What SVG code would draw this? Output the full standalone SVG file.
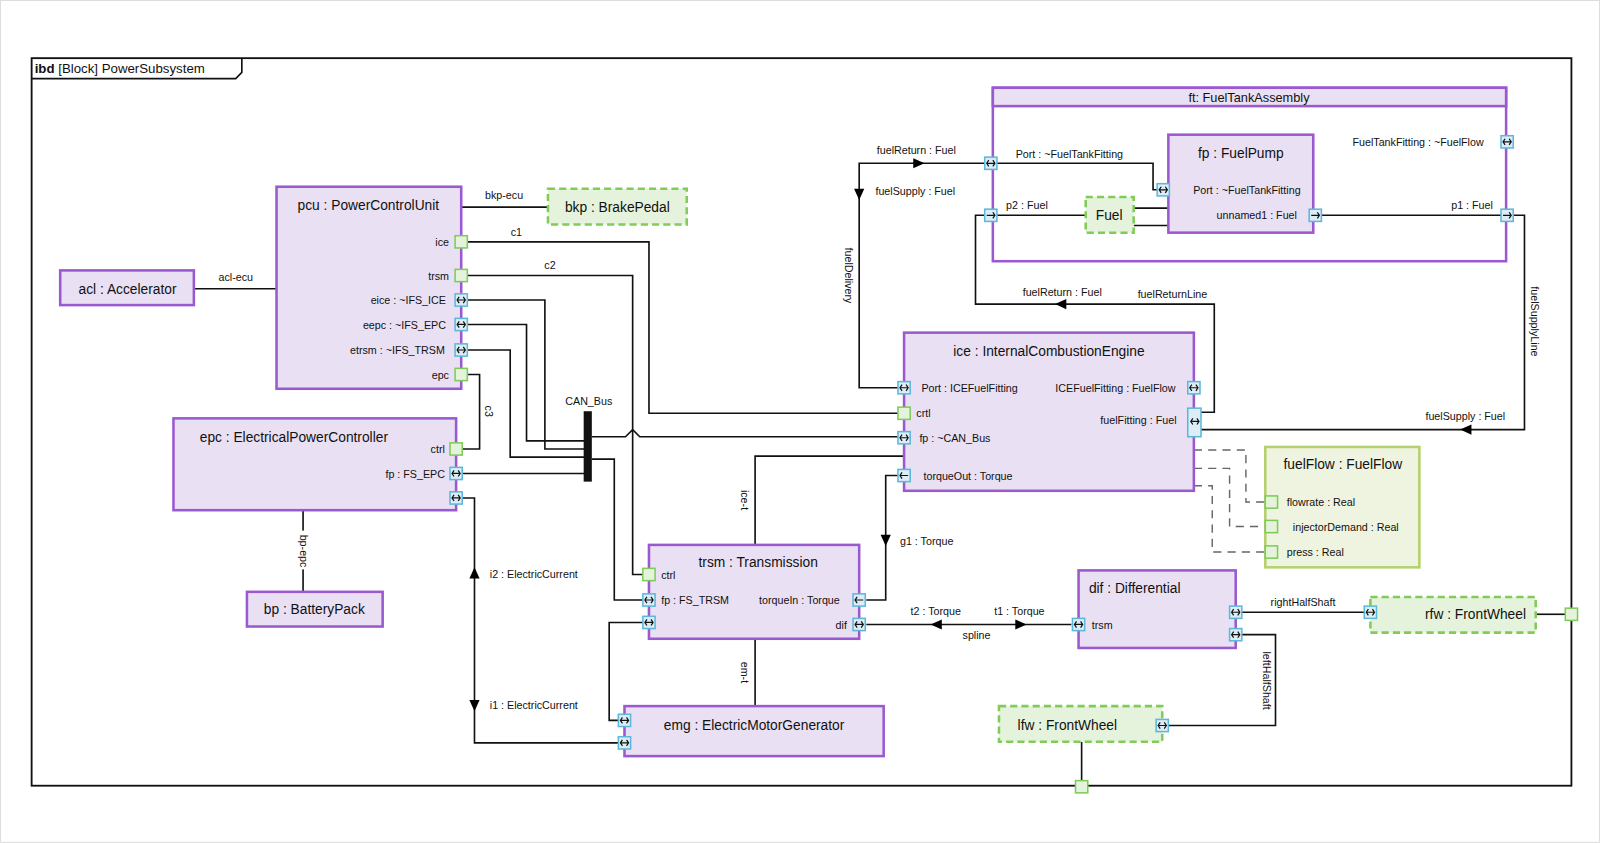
<svg xmlns="http://www.w3.org/2000/svg" width="1600" height="843" viewBox="0 0 1600 843">
<style>
text{font-family:"Liberation Sans",Arial,sans-serif;fill:#111}
.t{font-size:13.5px;text-anchor:middle}
.s{font-size:10.5px}
.m{text-anchor:middle}
.e{text-anchor:end}
.blk{fill:#e9e0f4;stroke:#9b59d0;stroke-width:2.5}
.dash{fill:#e6f3dc;stroke:#80cc58;stroke-width:2.5;stroke-dasharray:7 4}
.ln{fill:none;stroke:#111;stroke-width:1.6}
.dl{fill:none;stroke:#666;stroke-width:1.4;stroke-dasharray:8 6}
.gp{fill:#e6f3dc;stroke:#7dcc5a;stroke-width:1.5}
.bp{fill:#dcedf6;stroke:#5db7da;stroke-width:1.5}
</style>
<defs>
<g id="bi"><rect class="bp" x="-6" y="-6" width="12" height="12"/><path d="M-4 0H4M-2 -3L-4 0L-2 3M2 -3L4 0L2 3" fill="none" stroke="#111" stroke-width="1.2"/></g>
<g id="ri"><rect class="bp" x="-6" y="-6" width="12" height="12"/><path d="M-4 0H4M2 -3L4 0L2 3" fill="none" stroke="#111" stroke-width="1.2"/></g>
<g id="le"><rect class="bp" x="-6" y="-6" width="12" height="12"/><path d="M-4 0H4M-2 -3L-4 0L-2 3" fill="none" stroke="#111" stroke-width="1.2"/></g>
<rect id="gr" class="gp" x="-6" y="-6" width="12" height="12"/>
</defs>
<rect width="1600" height="843" fill="#fff"/>
<g transform="scale(1.0204)">
<rect x="0.5" y="0.5" width="1567" height="825" fill="none" stroke="#ddd"/>
<g id="frame">
<rect x="31" y="57" width="1509" height="713" fill="none" stroke="#111" stroke-width="1.8"/>
<path d="M31 77H231L237 71V57" fill="none" stroke="#111" stroke-width="1.6"/>
<text x="34" y="72" font-size="13"><tspan font-weight="bold">ibd</tspan> [Block] PowerSubsystem</text>
</g>
<g id="ft"><rect x="973" y="86" width="503" height="170" style="fill:#fff;stroke:#9b59d0;stroke-width:2.5"/><rect class="blk" x="973" y="86" width="503" height="18"/><text class="m" font-size="12.5" x="1224" y="100">ft: FuelTankAssembly</text>
<text class="s m" x="1048" y="155">Port : ~FuelTankFitting</text><text class="s" x="986" y="205">p2 : Fuel</text>
<text class="s e" x="1454" y="143">FuelTankFitting : ~FuelFlow</text><text class="s e" x="1463" y="205">p1 : Fuel</text></g>
<g id="connectors">
<path class="ln" d="M190 283H271"/><text class="s m" x="231" y="275">acl-ecu</text>
<path class="ln" d="M452 203H537"/><text class="s m" x="494" y="195">bkp-ecu</text>
<path class="ln" d="M458 237H636V405H880"/><text class="s m" x="506" y="231">c1</text>
<path class="ln" d="M458 270H620V563H630"/><text class="s m" x="539" y="264">c2</text>
<path class="ln" d="M458 294H534V440H576"/>
<path class="ln" d="M458 318H516V432H576"/>
<path class="ln" d="M458 343H500V448H576"/>
<path class="ln" d="M453 464H576"/>
<path class="ln" d="M580 428H613L620 421L627 428H880"/>
<path class="ln" d="M580 450H602V588H630"/>
<rect x="572" y="403" width="8" height="69" fill="#111"/>
<text class="s m" x="577" y="397">CAN_Bus</text>
<path class="ln" d="M458 367H470V440H453"/><text class="s m" transform="translate(475,403) rotate(90)">c3</text>
<path class="ln" d="M297 500V580"/><rect x="291" y="520" width="12" height="38" fill="#fff"/><text class="s m" transform="translate(294,540) rotate(90)">bp-epc</text>
<path class="ln" d="M886 447H740V534"/><text class="s m" transform="translate(726,490) rotate(90)">ice-t</text>
<path class="ln" d="M740 626V692"/><text class="s m" transform="translate(726,659) rotate(90)">em-t</text>
<path class="ln" d="M880 466H868V588H849"/><path d="M863 524H873L868 535Z"/><text class="s" x="882" y="534">g1 : Torque</text>
<path class="ln" d="M849 612H1050"/><path d="M912 612L923 607V617Z"/><path d="M1006 612L995 607V617Z"/>
<text class="s m" x="917" y="603">t2 : Torque</text><text class="s m" x="999" y="603">t1 : Torque</text><text class="s m" x="957" y="626">spline</text>
<path class="ln" d="M630 610H597V706H606"/>
<path class="ln" d="M453 488H465V728H606"/>
<path d="M460 567L465 556L470 567Z"/><path d="M460 686L465 697L470 686Z"/>
<text class="s" x="480" y="566">i2 : ElectricCurrent</text><text class="s" x="480" y="695">i1 : ElectricCurrent</text>
<path class="ln" d="M1217 600H1337"/><text class="s m" x="1277" y="594">rightHalfShaft</text>
<path class="ln" d="M1505 602H1534"/>
<path class="ln" d="M1217 622H1250V711H1145"/><text class="s m" transform="translate(1238,667) rotate(90)">leftHalfShaft</text>
<path class="ln" d="M1060 727V765"/>
<path class="dl" d="M1170 441H1221V492H1240"/>
<path class="dl" d="M1170 459H1205V516H1240"/>
<path class="dl" d="M1170 476H1188V541H1240"/>
<path class="ln" d="M965 160H842V380H880"/>
<path d="M906 160L895 155V165Z"/><path d="M837 185L842 196L847 185Z"/>
<text class="s m" x="898" y="151">fuelReturn : Fuel</text><text class="s m" x="897" y="191">fuelSupply : Fuel</text>
<text class="s m" transform="translate(828,270) rotate(90)">fuelDelivery</text>
<path class="ln" d="M1177 404H1190V298H956V211H965"/>
<path d="M1034 298L1045 293V303Z"/>
<text class="s m" x="1041" y="290">fuelReturn : Fuel</text><text class="s m" x="1149" y="292">fuelReturnLine</text>
<path class="ln" d="M1483 211H1494V421H1177"/>
<path d="M1431 421L1442 416V426Z"/>
<text class="s m" x="1436" y="412">fuelSupply : Fuel</text>
<text class="s m" transform="translate(1500,315) rotate(90)">fuelSupplyLine</text>
<path class="ln" d="M977 160H1130V186H1140"/>
<path class="ln" d="M977 211H1064M1111 204H1145M1111 221H1145"/>
<path class="ln" d="M1295 211H1471"/>
</g>
<g id="ftPorts"><use href="#bi" x="971" y="160"/><use href="#ri" x="971" y="211"/><use href="#bi" x="1477" y="139"/><use href="#ri" x="1477" y="211"/></g>
<g id="acl"><rect class="blk" x="59" y="265" width="131" height="34"/><text class="t" x="125" y="288">acl : Accelerator</text></g>
<g id="pcu"><rect class="blk" x="271" y="183" width="181" height="198"/><text class="t" x="361" y="206">pcu : PowerControlUnit</text>
<text class="s e" x="440" y="241">ice</text><text class="s e" x="440" y="274">trsm</text><text class="s e" x="437" y="298">eice : ~IFS_ICE</text><text class="s e" x="437" y="322">eepc : ~IFS_EPC</text><text class="s e" x="436" y="347">etrsm : ~IFS_TRSM</text><text class="s e" x="440" y="371">epc</text>
<use href="#gr" x="452" y="237"/><use href="#gr" x="452" y="270"/><use href="#bi" x="452" y="294"/><use href="#bi" x="452" y="318"/><use href="#bi" x="452" y="343"/><use href="#gr" x="452" y="367"/></g>
<g id="bkp"><rect class="dash" x="537" y="185" width="136" height="35"/><text class="t" x="605" y="208">bkp : BrakePedal</text></g>
<g id="epc"><rect class="blk" x="170" y="410" width="277" height="90"/><text class="t" x="288" y="433">epc : ElectricalPowerController</text>
<text class="s e" x="436" y="444">ctrl</text><text class="s e" x="436" y="468">fp : FS_EPC</text>
<use href="#gr" x="447" y="440"/><use href="#bi" x="447" y="464"/><use href="#bi" x="447" y="488"/></g>
<g id="bp"><rect class="blk" x="242" y="580" width="133" height="34"/><text class="t" x="308" y="602">bp : BatteryPack</text></g>
<g id="trsm"><rect class="blk" x="636" y="534" width="206" height="92"/><text class="t" x="743" y="556">trsm : Transmission</text>
<text class="s" x="648" y="567">ctrl</text><text class="s" x="648" y="592">fp : FS_TRSM</text><text class="s e" x="823" y="592">torqueIn : Torque</text><text class="s e" x="830" y="616">dif</text>
<use href="#gr" x="636" y="563"/><use href="#bi" x="636" y="588"/><use href="#bi" x="636" y="610"/><use href="#le" x="842" y="588"/><use href="#bi" x="842" y="612"/></g>
<g id="emg"><rect class="blk" x="612" y="692" width="254" height="49"/><text class="t" x="739" y="715">emg : ElectricMotorGenerator</text>
<use href="#bi" x="612" y="706"/><use href="#bi" x="612" y="728"/></g>
<g id="ice"><rect class="blk" x="886" y="326" width="284" height="155"/><text class="t" x="1028" y="349">ice : InternalCombustionEngine</text>
<text class="s" x="903" y="384">Port : ICEFuelFitting</text><text class="s" x="898" y="409">crtl</text><text class="s" x="901" y="433">fp : ~CAN_Bus</text><text class="s" x="905" y="470">torqueOut : Torque</text>
<text class="s e" x="1152" y="384">ICEFuelFitting : FuelFlow</text><text class="s e" x="1153" y="416">fuelFitting : Fuel</text>
<use href="#bi" x="886" y="380"/><use href="#gr" x="886" y="405"/><use href="#bi" x="886" y="429"/><use href="#le" x="886" y="466"/><use href="#bi" x="1170" y="380"/>
<rect class="bp" x="1164" y="400" width="13" height="28"/><path d="M1167 413H1175M1169 410L1167 413L1169 416M1173 410L1175 413L1173 416" fill="none" stroke="#111" stroke-width="1.2"/></g>
<g id="fuelFlow"><rect x="1240" y="438" width="151" height="118" fill="#eff4e0" stroke="#b5d06c" stroke-width="2.5"/><text class="t" x="1316" y="460">fuelFlow : FuelFlow</text>
<text class="s" x="1261" y="496">flowrate : Real</text><text class="s" x="1267" y="520">injectorDemand : Real</text><text class="s" x="1261" y="545">press : Real</text>
<use href="#gr" x="1246" y="492"/><use href="#gr" x="1246" y="516"/><use href="#gr" x="1246" y="541"/></g>
<g id="dif"><rect class="blk" x="1057" y="559" width="154" height="76"/><text class="t" x="1112" y="581">dif : Differential</text>
<text class="s" x="1070" y="616">trsm</text><use href="#bi" x="1057" y="612"/><use href="#bi" x="1211" y="600"/><use href="#bi" x="1211" y="622"/></g>
<g id="rfw"><rect class="dash" x="1343" y="585" width="162" height="35"/><text class="t" x="1446" y="607">rfw : FrontWheel</text><use href="#bi" x="1343" y="600"/></g>
<g id="lfw"><rect class="dash" x="979" y="692" width="160" height="35"/><text class="t" x="1046" y="715">lfw : FrontWheel</text><use href="#bi" x="1139" y="711"/></g>
<g id="boundaryPorts"><use href="#gr" x="1540" y="602"/><use href="#gr" x="1060" y="771"/></g>
<g id="fp"><rect class="blk" x="1145" y="132" width="142" height="96"/><text class="t" x="1216" y="155">fp : FuelPump</text>
<text class="s m" x="1222" y="190">Port : ~FuelTankFitting</text><text class="s e" x="1271" y="215">unnamed1 : Fuel</text>
<use href="#bi" x="1140" y="186"/><use href="#ri" x="1289" y="211"/></g>
<g id="fuel"><rect class="dash" x="1064" y="193" width="47" height="35"/><text class="t" x="1087" y="216">Fuel</text></g>
</g>
</svg>
